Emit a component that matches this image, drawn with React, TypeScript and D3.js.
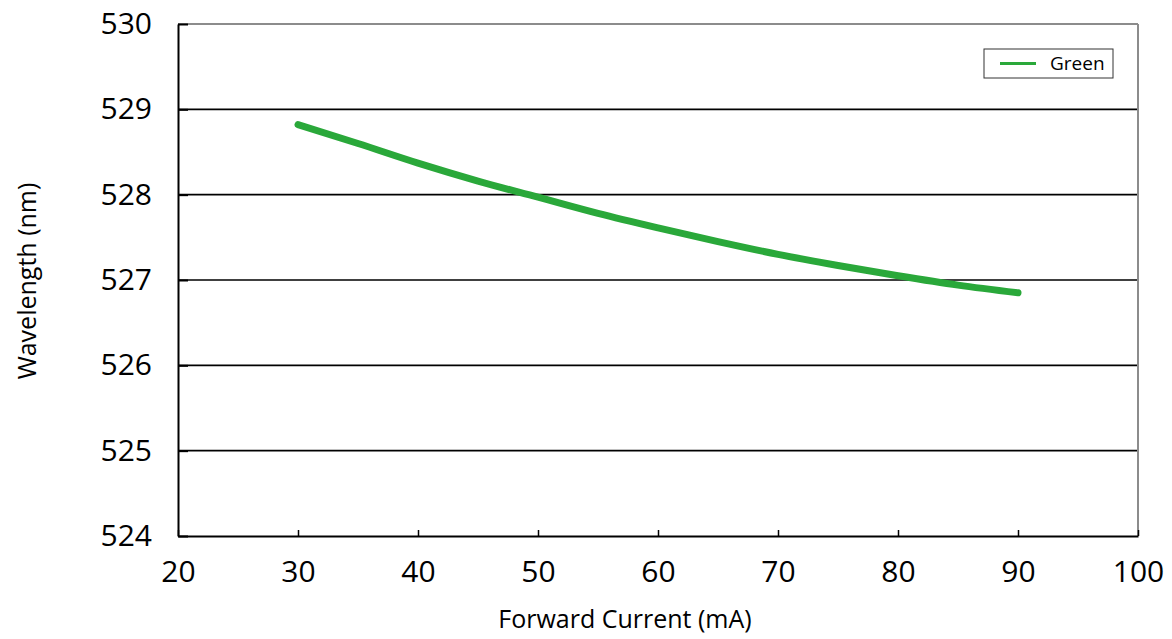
import React, { useEffect, useRef } from "react";
import * as d3 from "d3";

const currents = [30, 35, 40, 45, 50, 55, 60, 65, 70, 75, 80, 85, 90];
const wavelengths = [528.82, 528.6, 528.37, 528.16, 527.97, 527.78, 527.61, 527.45, 527.3, 527.17, 527.05, 526.94, 526.85];
const xTicks = [20, 30, 40, 50, 60, 70, 80, 90, 100];
const yTicks = [524, 525, 526, 527, 528, 529, 530];
const seriesName = "Green";

export default function App() {
  const svgRef = useRef<SVGSVGElement>(null);

  useEffect(() => {
    const svg = d3.select(svgRef.current);
    svg.selectAll("*").remove();
    const svgWidth = 1172;
    const svgHeight = 639;
    const margin = { top: 24, right: 34, bottom: 103, left: 178 };
    const width = svgWidth - margin.left - margin.right;
    const height = svgHeight - margin.top - margin.bottom;
    const font = "'Open Sans', 'Noto Sans', sans-serif";

    const g = svg.append("g").attr("transform", `translate(${margin.left},${margin.top})`);

    const x = d3.scaleLinear().domain([20, 100]).range([0, width]);
    const y = d3.scaleLinear().domain([524, 530]).range([height, 0]);

    // gridlines
    g.selectAll(".grid")
      .data(yTicks.slice(1, -1))
      .enter()
      .append("line")
      .attr("x1", 0)
      .attr("x2", width)
      .attr("y1", (d) => y(d))
      .attr("y2", (d) => y(d))
      .attr("stroke", "#000")
      .attr("stroke-width", 1.6);

    // frame: top and right are gray
    g.append("line").attr("x1", 0).attr("x2", width).attr("y1", 0).attr("y2", 0)
      .attr("stroke", "#8c8c8c").attr("stroke-width", 2);
    g.append("line").attr("x1", width).attr("x2", width).attr("y1", 0).attr("y2", height)
      .attr("stroke", "#8c8c8c").attr("stroke-width", 2);

    // axes
    const xAxis = g.append("g")
      .attr("transform", `translate(0,${height})`)
      .call(d3.axisBottom(x).tickValues(xTicks).tickSizeInner(-6).tickSizeOuter(0).tickFormat(d3.format("d")));
    xAxis.select(".domain").attr("stroke", "#000").attr("stroke-width", 2);
    xAxis.selectAll(".tick line").attr("stroke", "#000").attr("stroke-width", 1.5);
    xAxis.selectAll(".tick text")
      .attr("y", 25)
      .attr("dy", "0.71em")
      .style("font-family", font)
      .style("font-size", "30px")
      .attr("fill", "#000");

    const yAxis = g.append("g")
      .call(d3.axisLeft(y).tickValues(yTicks).tickSizeInner(-10).tickSizeOuter(0).tickFormat(d3.format("d")));
    yAxis.select(".domain").attr("stroke", "#000").attr("stroke-width", 2);
    yAxis.selectAll(".tick line").attr("stroke", "#000").attr("stroke-width", 2);
    yAxis.selectAll(".tick text")
      .attr("x", -26)
      .style("font-family", font)
      .style("font-size", "30px")
      .attr("fill", "#000");

    // series
    const line = d3.line<number>()
      .x((d, i) => x(currents[i]))
      .y((d) => y(d))
      .curve(d3.curveMonotoneX);
    g.append("path")
      .datum(wavelengths)
      .attr("d", line)
      .attr("fill", "none")
      .attr("stroke", "#2aa83a")
      .attr("stroke-width", 7)
      .attr("stroke-linecap", "round");

    // legend
    const legend = g.append("g").attr("transform", `translate(${984 - margin.left},${49 - margin.top})`);
    legend.append("rect")
      .attr("width", 129)
      .attr("height", 29)
      .attr("fill", "#fff")
      .attr("stroke", "#333")
      .attr("stroke-width", 1);
    legend.append("line")
      .attr("x1", 16).attr("x2", 52).attr("y1", 14.5).attr("y2", 14.5)
      .attr("stroke", "#2aa83a").attr("stroke-width", 3);
    legend.append("text")
      .attr("x", 66).attr("y", 14.5).attr("dy", "0.35em")
      .style("font-family", font).style("font-size", "19px")
      .text(seriesName);

    // axis titles
    svg.append("text")
      .attr("x", 625)
      .attr("y", 628)
      .attr("text-anchor", "middle")
      .style("font-family", font)
      .style("font-size", "25px")
      .text("Forward Current (mA)");

    svg.append("text")
      .attr("transform", `translate(36,${281}) rotate(-90)`)
      .attr("text-anchor", "middle")
      .style("font-family", font)
      .style("font-size", "25px")
      .text("Wavelength (nm)");
  }, []);

  return (
    <svg ref={svgRef} width={1172} height={639} style={{ position: "absolute", left: 0, top: 0 }}></svg>
  );
}
